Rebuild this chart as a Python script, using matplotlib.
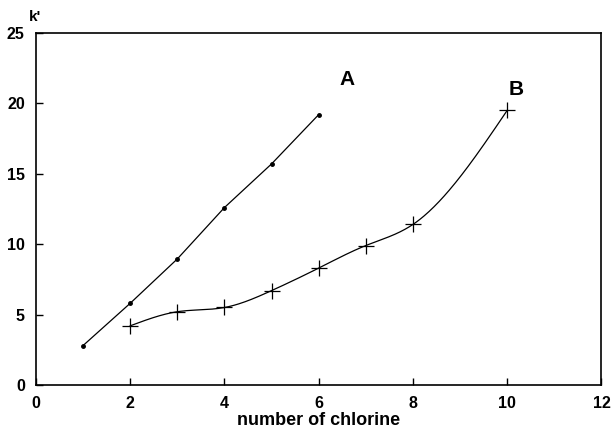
import numpy as np
import matplotlib
matplotlib.use("Agg")
import matplotlib.pyplot as plt

plt.rcParams['font.family'] = ['Liberation Sans', 'DejaVu Sans']

# series A (filled dots) and B (crosses)
xa = [1, 2, 3, 4, 5, 6]
ya = [2.8, 5.8, 8.95, 12.6, 15.7, 19.2]
xb = [2, 3, 4, 5, 6, 7, 8, 10]
yb = [4.2, 5.2, 5.5, 6.7, 8.3, 9.9, 11.4, 19.5]

xticks = [0, 2, 4, 6, 8, 10, 12]
yticks = [0, 5, 10, 15, 20, 25]


def spline(x, y, n=300):
    # natural cubic spline through the measured points
    x = np.asarray(x, float)
    y = np.asarray(y, float)
    m = len(x)
    h = np.diff(x)
    A = np.zeros((m, m))
    r = np.zeros(m)
    A[0, 0] = A[-1, -1] = 1
    for i in range(1, m - 1):
        A[i, i - 1] = h[i - 1]
        A[i, i] = 2 * (h[i - 1] + h[i])
        A[i, i + 1] = h[i]
        r[i] = 6 * ((y[i + 1] - y[i]) / h[i] - (y[i] - y[i - 1]) / h[i - 1])
    M = np.linalg.solve(A, r)
    xs = np.linspace(x[0], x[-1], n)
    k = np.clip(np.searchsorted(x, xs) - 1, 0, m - 2)
    a = x[k + 1] - xs
    b = xs - x[k]
    hk = h[k]
    ys = (M[k] * a ** 3 + M[k + 1] * b ** 3) / (6 * hk) \
        + (y[k] / hk - M[k] * hk / 6) * a + (y[k + 1] / hk - M[k + 1] * hk / 6) * b
    return xs, ys


fig = plt.figure(figsize=(6.12, 4.33), dpi=100)
ax = fig.add_axes([0.0588, 0.111, 0.924, 0.813])

ax.plot(xa, ya, color='black', lw=0.9, marker='o', ms=2.5)
sx, sy = spline(xb, yb)
ax.plot(sx, sy, color='black', lw=0.9)
ax.plot(xb, yb, ls='none', color='black', marker='+', ms=11, mew=0.9)

ax.text(6.6, 21.7, 'A', fontsize=15, fontweight='bold', ha='center', va='center')
ax.text(10.2, 21.0, 'B', fontsize=15, fontweight='bold', ha='center', va='center')

ax.set_xlim(0, 12)
ax.set_ylim(0, 25)
ax.set_xticks(xticks)
ax.set_yticks(yticks)
ax.tick_params(direction='in', length=5, width=1, labelsize=11.5, pad=8)
for lab in ax.get_xticklabels() + ax.get_yticklabels():
    lab.set_fontweight('bold')
for s in ax.spines.values():
    s.set_linewidth(1.2)

ax.set_xlabel('number of chlorine', fontsize=13, fontweight='bold', labelpad=1)
ax.text(-0.15, 25.6, "k'", fontsize=11, fontweight='bold', ha='left', va='bottom')

fig.savefig('out.png', dpi=100)
